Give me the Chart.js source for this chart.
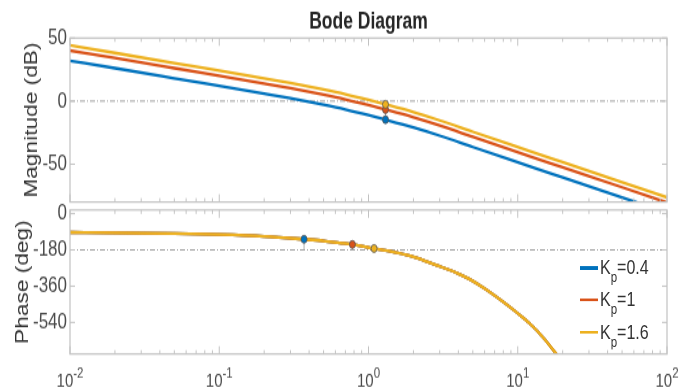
<!DOCTYPE html>
<html>
<head>
<meta charset="utf-8">
<script src="https://cdn.jsdelivr.net/npm/chart.js@4.4.1/dist/chart.umd.min.js"></script>
<style>
  html, body { margin: 0; padding: 0; background: #fff; overflow: hidden; }
  /* the reference picture is stretched vertically, so the whole drawing is too */
  #wrap { position: absolute; left: 0; top: 0; width: 679px; height: 302px;
          transform: scaleY(1.298); transform-origin: 0 0; }
  #wrap canvas { position: absolute; left: 0; top: 0; }
  .leg { position: absolute; left: 580px; height: 20px; display: flex; align-items: center;
         font: 16px 'Liberation Sans', Arial, sans-serif; color: #333; white-space: nowrap; }
  .leg .ln { width: 18px; height: 2.3px; margin-right: 2px; }
  .leg sub { font-size: 11.5px; vertical-align: -6px; line-height: 0; }
</style>
</head>
<body>
<div id="wrap">
  <canvas id="mag" width="679" height="302"></canvas>
  <canvas id="phase" width="679" height="302"></canvas>
  <div id="legend"></div>
</div>
<script>
// Kp values and colours
const kpValues = ['0.4', '1', '1.6'];
const kpColors = ['#0072BD', '#D95319', '#EDB120'];

// magnitude (dB)
const magFreq = [0.01, 0.02, 0.05, 0.1, 0.2, 0.3, 0.5, 0.7, 1, 1.3, 2, 3, 5, 8.85, 12, 20, 50, 100];
const magKp04 = [32.0, 26.1, 18.1, 12.0, 5.9, 2.2, -2.9, -6.6, -11.1, -14.7, -20.9, -27.4, -36.4, -46.4, -51.7, -60.5, -76.3, -88.4];
const magKp1  = [40.0, 34.1, 26.1, 20.0, 13.9, 10.2, 5.1, 1.4, -3.1, -6.7, -12.9, -19.4, -28.4, -38.4, -43.7, -52.5, -68.3, -80.4];
const magKp16 = [44.2, 38.2, 30.2, 24.1, 18.0, 14.3, 9.2, 5.5, 1.0, -2.6, -8.8, -15.3, -24.3, -34.3, -39.6, -48.4, -64.2, -76.3];

// phase (deg), the same curve for every Kp
const phFreq = [0.01, 0.02, 0.05, 0.1, 0.2, 0.37, 0.5, 0.64, 0.78, 1.09, 1.5, 2, 2.86, 4, 4.77, 6, 7.98, 10, 12, 14, 18.2, 20];
const phase  = [-93, -95, -99, -104, -113, -127, -135, -145, -153, -173, -192, -214, -256, -298, -326, -372, -438, -495, -545, -595, -697, -735];

// stability margin markers (order: Kp=0.4, 1, 1.6)
const gmFreq = [1.3, 1.3, 1.3];
const gmMag = [-14.7, -6.7, -2.6];
const pmFreq = [0.37, 0.78, 1.09];
const pmPhase = [-127, -153, -173];

// axis ticks
const xTicks = [0.01, 0.1, 1, 10, 100];
const xTickExp = ['-2', '-1', '0', '1', '2'];
const magTicks = [50, 0, -50];
const phTicks = [0, -180, -360, -540];

// layout, reference pixels mapped into the squashed canvas
const S = 392 / 302;
const sy = v => v / S;
const FONT = "'Liberation Sans', Arial, sans-serif";
Chart.defaults.font.family = FONT;
Chart.defaults.animation = false;

const pts = (xs, ys) => xs.map((x, i) => ({ x: x, y: ys[i] }));

// frame, inner tick marks, dash-dot reference line and marker stems
const bodeFrame = {
  id: 'bodeFrame',
  beforeDatasetsDraw(chart, args, opts) {
    const { ctx, chartArea: a, scales: { y } } = chart;
    const ry = y.getPixelForValue(opts.refLine);
    ctx.save();
    ctx.strokeStyle = '#a0a0a0';
    ctx.lineWidth = 1;
    ctx.setLineDash([5, 2, 1, 2]);
    ctx.beginPath(); ctx.moveTo(a.left, ry); ctx.lineTo(a.right, ry); ctx.stroke();
    ctx.setLineDash([]);
    ctx.strokeStyle = '#b0b0b0';
    chart.getDatasetMeta(0).data.forEach(p => {
      ctx.beginPath(); ctx.moveTo(p.x, p.y); ctx.lineTo(p.x, ry); ctx.stroke();
    });
    ctx.restore();
  },
  afterDatasetsDraw(chart, args, opts) {
    const { ctx, chartArea: a, scales: { x, y } } = chart;
    ctx.save();
    ctx.strokeStyle = '#c2c2c2';
    ctx.lineWidth = 1.2;
    ctx.strokeRect(a.left, a.top, a.width, a.height);
    ctx.lineWidth = 1;
    const vtick = (v, len) => {
      const px = x.getPixelForValue(v);
      ctx.beginPath();
      ctx.moveTo(px, a.top); ctx.lineTo(px, a.top + len);
      ctx.moveTo(px, a.bottom); ctx.lineTo(px, a.bottom - len);
      ctx.stroke();
    };
    for (let d = -2; d < 2; d++) {
      for (let m = 2; m < 10; m++) vtick(m * Math.pow(10, d), 3);
    }
    xTicks.forEach(v => vtick(v, 6));
    y.ticks.forEach(t => {
      const py = y.getPixelForValue(t.value);
      ctx.beginPath();
      ctx.moveTo(a.left, py); ctx.lineTo(a.left + 5, py);
      ctx.moveTo(a.right, py); ctx.lineTo(a.right - 5, py);
      ctx.stroke();
    });

    // decade labels 10^n with a raised exponent
    if (opts.xLabels) {
      ctx.fillStyle = '#4a4a4a';
      ctx.textBaseline = 'alphabetic';
      ctx.textAlign = 'left';
      xTicks.forEach((v, i) => {
        const px = x.getPixelForValue(v);
        ctx.font = '15px ' + FONT;
        const wb = ctx.measureText('10').width;
        ctx.font = '11.5px ' + FONT;
        const we = ctx.measureText(xTickExp[i]).width;
        const left = px - (wb + we) / 2;
        ctx.font = '15px ' + FONT;
        ctx.fillText('10', left, sy(387));
        ctx.font = '11.5px ' + FONT;
        ctx.fillText(xTickExp[i], left + wb, sy(378));
      });
    }
    ctx.restore();
  }
};

function curveSets(xs, series) {
  // later Kp drawn on top
  return series.map((ys, i) => ({
    label: 'Kp=' + kpValues[i],
    data: pts(xs, ys),
    borderColor: kpColors[i],
    borderWidth: 2.3,
    pointRadius: 0,
    cubicInterpolationMode: 'monotone',
    order: 3 - i
  }));
}

function markerSet(xs, ys) {
  return {
    label: 'margins',
    data: pts(xs, ys),
    showLine: false,
    pointRadius: 3,
    pointBackgroundColor: kpColors,
    pointBorderColor: '#555',
    pointBorderWidth: 0.8,
    order: 0
  };
}

function yScale(min, max, ticks, title, titlePad) {
  return {
    type: 'linear',
    min: min,
    max: max,
    grid: { display: false, drawTicks: false },
    border: { display: false },
    afterBuildTicks: s => { s.ticks = ticks.map(v => ({ value: v })); },
    afterFit: s => { s.width = 70; },
    ticks: { color: '#4a4a4a', font: { size: 17 }, padding: 3 },
    title: { display: true, text: title, color: '#333', font: { size: 17.5 }, padding: { top: titlePad, bottom: 0 } }
  };
}

const xBase = {
  type: 'logarithmic',
  min: 0.01,
  max: 100,
  grid: { display: false, drawTicks: false },
  border: { display: false },
  afterBuildTicks: s => { s.ticks = xTicks.map(v => ({ value: v })); }
};

new Chart(document.getElementById('mag'), {
  type: 'line',
  data: {
    datasets: [markerSet(gmFreq, gmMag)].concat(curveSets(magFreq, [magKp04, magKp1, magKp16]))
  },
  options: {
    responsive: false,
    layout: { padding: { top: 0, right: 12, bottom: 302 - sy(202), left: 0 } },
    scales: {
      x: Object.assign({}, xBase, { display: false }),
      y: yScale(-80, 50, magTicks, 'Magnitude (dB)', 21.5)
    },
    plugins: {
      legend: { display: false },
      tooltip: { enabled: false },
      title: {
        display: true,
        text: 'Bode Diagram',
        fullSize: false,
        color: '#262626',
        font: { size: 17.5, weight: 'bold' },
        padding: { top: sy(22) - 10.5, bottom: sy(38) - sy(22) - 10.5 }
      },
      bodeFrame: { refLine: 0 }
    }
  },
  plugins: [bodeFrame]
});

new Chart(document.getElementById('phase'), {
  type: 'line',
  data: {
    datasets: [markerSet(pmFreq, pmPhase)].concat(curveSets(phFreq, [phase, phase, phase]))
  },
  options: {
    responsive: false,
    layout: { padding: { top: sy(210), right: 12, bottom: 0, left: 0 } },
    scales: {
      x: Object.assign({}, xBase, {
        afterFit: s => { s.height = 302 - sy(354); },
        ticks: { display: false }
      }),
      y: yScale(-697, 18, phTicks, 'Phase (deg)', 13)
    },
    plugins: {
      legend: { display: false },
      tooltip: { enabled: false },
      bodeFrame: { refLine: -180, xLabels: true }
    }
  },
  plugins: [bodeFrame]
});

// legend with subscripted Kp
const legend = document.getElementById('legend');
kpValues.forEach((kp, i) => {
  const row = document.createElement('div');
  row.className = 'leg';
  row.style.top = (sy(268 + i * 32.3) - 10) + 'px';
  row.innerHTML = '<span class="ln" style="background:' + kpColors[i] + '"></span>' +
    '<span>K<sub>p</sub>=' + kp + '</span>';
  legend.appendChild(row);
});
</script>
</body>
</html>
